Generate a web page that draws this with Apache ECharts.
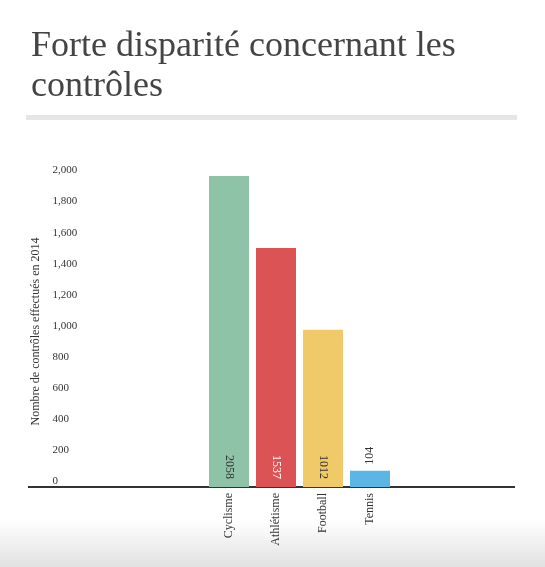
<!DOCTYPE html>
<html><head><meta charset="utf-8">
<script src="https://cdn.jsdelivr.net/npm/echarts@6/dist/echarts.min.js"></script>
<style>html,body{margin:0;padding:0;background:#fff}#c{width:545px;height:567px}</style>
</head><body><div id="c"></div>
<script>
const categories = ['Cyclisme', 'Athlétisme', 'Football', 'Tennis', '', '', '', '', ''];
const prefix = ['', '', ''];
const values = [2058, 1537, 1012, 104];
const colors = ['#8ec3a7', '#dc5356', '#f0ca68', '#5bb5e5'];
const labelColors = ['#333', '#fff', '#333', '#333'];
const title = 'Forte disparité concernant les\ncontrôles';
const yName = 'Nombre de contrôles effectués en 2014';

const chart = echarts.init(document.getElementById('c'));
const cats = prefix.concat(categories).slice(0, 9);
const data = prefix.map(() => null).concat(values.map((v, i) => ({
  value: v,
  itemStyle: {color: colors[i]},
  label: i === 3
    ? {show: true, position: 'top', rotate: 90, align: 'left', verticalAlign: 'middle', color: labelColors[i], distance: 6}
    : {show: true, position: 'insideBottom', rotate: -90, align: 'right', verticalAlign: 'middle', color: labelColors[i], distance: 8}
})));
chart.setOption({
  animation: false,
  textStyle: {fontFamily: 'Liberation Serif'},
  title: {text: title, left: 26, top: 22, textStyle: {fontFamily: 'Liberation Serif', fontWeight: 'normal', fontSize: 36, color: '#444', lineHeight: 40}},
  graphic: [
    {type: 'rect', shape: {x: 26, y: 115, width: 491, height: 5}, style: {fill: '#e6e6e6'}},
    {type: 'line', shape: {x1: 28, y1: 487, x2: 515, y2: 487}, style: {stroke: '#333', lineWidth: 2}},
    {type: 'rect', z: -10, shape: {x: 0, y: 520, width: 545, height: 47}, style: {fill: new echarts.graphic.LinearGradient(0, 0, 0, 1, [{offset: 0, color: 'rgba(255,255,255,1)'}, {offset: 1, color: 'rgba(225,225,225,1)'}])}}
  ],
  grid: {left: 64.5, top: 176, width: 423, bottom: 80},
  xAxis: {type: 'category', data: cats, axisLine: {show: false}, axisTick: {show: false},
    axisLabel: {rotate: 90, interval: 0, color: '#333', fontSize: 12, margin: 6}},
  yAxis: {type: 'value', min: 0, max: 2000, interval: 200, splitLine: {show: false},
    name: yName, nameLocation: 'middle', nameGap: 22, nameTextStyle: {color: '#333', fontSize: 12},
    axisLabel: {align: 'left', margin: 12, verticalAlign: 'bottom', color: '#333', fontSize: 11,
      formatter: v => v.toLocaleString('en-US')}},
  series: [{type: 'bar', data: data, barWidth: 40, label: {fontSize: 12, fontFamily: 'Liberation Serif'}}]
});
</script></body></html>
